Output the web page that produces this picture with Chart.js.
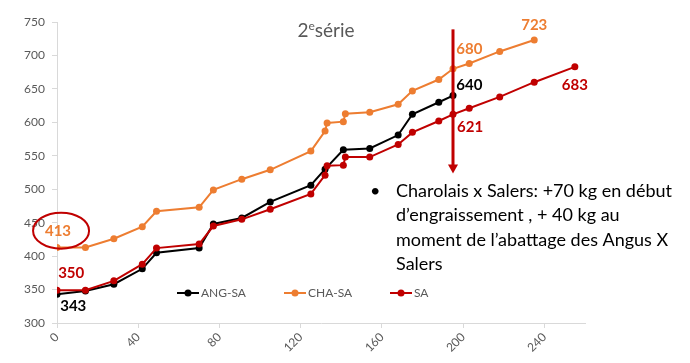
<!DOCTYPE html>
<html>
<head>
<meta charset="utf-8">
<script src="https://cdn.jsdelivr.net/npm/chart.js@4.4.0/dist/chart.umd.min.js"></script>
<style>
  html, body { margin: 0; padding: 0; background: #fff; }
  #wrap { width: 690px; height: 363px; }
</style>
</head>
<body>
<div id="wrap"><canvas id="chart"></canvas></div>
<script>
// jours d'engraissement et poids vif (kg)
const joursAng = [0, 14, 28, 42, 49, 70, 77, 91, 105, 125, 132, 141, 154, 168, 175, 188, 195];
const poidsAng = [343, 348, 358, 381, 405, 412, 448, 457, 481, 506, 530, 559, 561, 581, 612, 630, 640];

const joursCha = [0, 14, 28, 42, 49, 70, 77, 91, 105, 125, 132, 133, 141, 142, 154, 168, 175, 188, 195, 203, 218, 235];
const poidsCha = [413, 413, 426, 444, 467, 473, 499, 515, 529, 557, 587, 599, 601, 613, 615, 627, 647, 664, 680, 688, 706, 723];

const joursSa = [0, 14, 28, 42, 49, 70, 77, 91, 105, 125, 132, 133, 141, 142, 154, 168, 175, 188, 195, 203, 218, 235, 255];
const poidsSa = [349, 349, 363, 388, 412, 418, 445, 455, 470, 493, 521, 535, 536, 548, 548, 567, 585, 602, 612, 621, 638, 660, 683];

const series = ["ANG-SA", "CHA-SA", "SA"];
const couleurs = ["#000000", "#ED7D31", "#C00000"];

const yTicks = [300, 350, 400, 450, 500, 550, 600, 650, 700, 750];
const xTicks = [0, 40, 80, 120, 160, 200, 240];

// étiquettes de valeurs posées en coordonnées du graphique
const etiquettes = [
    { texte: "413", x: 0.5, y: 438, couleur: "#ED7D31", align: "center" },
    { texte: "350", x: 7, y: 375, couleur: "#C00000", align: "center" },
    { texte: "343", x: 8, y: 325, couleur: "#000000", align: "center" },
    { texte: "680", x: 196.6, y: 710, couleur: "#ED7D31", align: "left" },
    { texte: "640", x: 196.6, y: 656, couleur: "#000000", align: "left" },
    { texte: "621", x: 197, y: 593, couleur: "#C00000", align: "left" },
    { texte: "723", x: 235, y: 745, couleur: "#ED7D31", align: "center" },
    { texte: "683", x: 255, y: 656, couleur: "#C00000", align: "center" }
];

const texteBullet = [
    "Charolais x Salers: +70 kg en début",
    "d’engraissement , + 40 kg au",
    "moment de l’abattage des Angus X",
    "Salers"
];

const police = "Lato, 'Open Sans', sans-serif";

function toXY(xs, ys) {
    return xs.map((v, i) => ({ x: v, y: ys[i] }));
}

const annotations = {
    id: 'annotations',
    afterDatasetsDraw(chart) {
        const ctx = chart.ctx;
        const x = chart.scales.x;
        const y = chart.scales.y;
        ctx.save();

        // titre
        ctx.fillStyle = '#595959';
        ctx.textBaseline = 'middle';
        ctx.font = '19px ' + police;
        const w2 = ctx.measureText('2').width;
        const wS = ctx.measureText('série').width;
        ctx.font = '12px ' + police;
        const wE = ctx.measureText('e').width;
        let tx = 326 - (w2 + wE + wS) / 2;
        ctx.textAlign = 'left';
        ctx.font = '19px ' + police;
        ctx.fillText('2', tx, 31);
        ctx.font = '12px ' + police;
        ctx.fillText('e', tx + w2, 26);
        ctx.font = '19px ' + police;
        ctx.fillText('série', tx + w2 + wE, 31);

        // ellipse autour de 413
        ctx.strokeStyle = '#C00000';
        ctx.lineWidth = 2;
        ctx.beginPath();
        ctx.ellipse(x.getPixelForValue(2), y.getPixelForValue(438), 28, 18, 0, 0, Math.PI * 2);
        ctx.stroke();

        // étiquettes
        ctx.font = 'bold 15px ' + police;
        etiquettes.forEach(e => {
            ctx.fillStyle = e.couleur;
            ctx.textAlign = e.align;
            ctx.fillText(e.texte, x.getPixelForValue(e.x), y.getPixelForValue(e.y));
        });

        // flèche verticale
        const ax = x.getPixelForValue(195);
        const aTop = y.getPixelForValue(739);
        const aBot = y.getPixelForValue(525);
        ctx.strokeStyle = '#C00000';
        ctx.fillStyle = '#C00000';
        ctx.lineWidth = 3;
        ctx.beginPath();
        ctx.moveTo(ax, aTop);
        ctx.lineTo(ax, aBot - 7);
        ctx.stroke();
        ctx.beginPath();
        ctx.moveTo(ax - 5, aBot - 8);
        ctx.lineTo(ax + 5, aBot - 8);
        ctx.lineTo(ax, aBot + 1);
        ctx.closePath();
        ctx.fill();

        // légende
        ctx.font = '12px ' + police;
        ctx.textAlign = 'left';
        const legX = [177, 284, 390];
        series.forEach((s, i) => {
            const lx = legX[i];
            ctx.strokeStyle = couleurs[i];
            ctx.fillStyle = couleurs[i];
            ctx.lineWidth = 2;
            ctx.beginPath();
            ctx.moveTo(lx, 293);
            ctx.lineTo(lx + 22, 293);
            ctx.stroke();
            ctx.beginPath();
            ctx.arc(lx + 11, 293, 3.5, 0, Math.PI * 2);
            ctx.fill();
            ctx.fillStyle = '#595959';
            ctx.fillText(s, lx + 24, 293);
        });

        // texte à puce
        ctx.fillStyle = '#000000';
        ctx.font = '18px ' + police;
        ctx.fillText('•', 370, 191);
        texteBullet.forEach((l, i) => {
            ctx.fillText(l, 396, 191 + i * 24.5);
        });

        ctx.restore();
    }
};

const ctx = document.getElementById('chart').getContext('2d');
new Chart(ctx, {
    type: 'line',
    data: {
        datasets: [{
            label: series[0],
            data: toXY(joursAng, poidsAng),
            borderColor: couleurs[0],
            backgroundColor: couleurs[0],
            order: 2
        }, {
            label: series[1],
            data: toXY(joursCha, poidsCha),
            borderColor: couleurs[1],
            backgroundColor: couleurs[1],
            order: 3
        }, {
            label: series[2],
            data: toXY(joursSa, poidsSa),
            borderColor: couleurs[2],
            backgroundColor: couleurs[2],
            order: 1
        }]
    },
    options: {
        responsive: true,
        maintainAspectRatio: false,
        animation: false,
        layout: { padding: { top: 22, right: 105, left: 0, bottom: 0 } },
        elements: {
            line: { borderWidth: 2, tension: 0 },
            point: { radius: 3.5, borderWidth: 0, hoverRadius: 3.5 }
        },
        plugins: {
            legend: { display: false },
            title: { display: false },
            tooltip: { enabled: false }
        },
        scales: {
            x: {
                type: 'linear',
                min: 0,
                max: 260,
                afterFit: s => { s.height = 40; },
                afterBuildTicks: s => { s.ticks = xTicks.map(v => ({ value: v })); },
                grid: { drawOnChartArea: false, drawTicks: true, tickLength: 5, color: '#d9d9d9' },
                border: { color: '#d9d9d9' },
                ticks: {
                    minRotation: 45,
                    maxRotation: 45,
                    padding: 2,
                    color: '#595959',
                    font: { family: police, size: 12 }
                }
            },
            y: {
                min: 300,
                max: 750,
                afterFit: s => { s.width = 57; },
                afterBuildTicks: s => { s.ticks = yTicks.map(v => ({ value: v })); },
                grid: { drawOnChartArea: false, drawTicks: true, tickLength: 5, color: '#d9d9d9' },
                border: { color: '#d9d9d9' },
                ticks: {
                    padding: 7,
                    color: '#595959',
                    font: { family: police, size: 12 }
                }
            }
        }
    },
    plugins: [annotations]
});
</script>
</body>
</html>
